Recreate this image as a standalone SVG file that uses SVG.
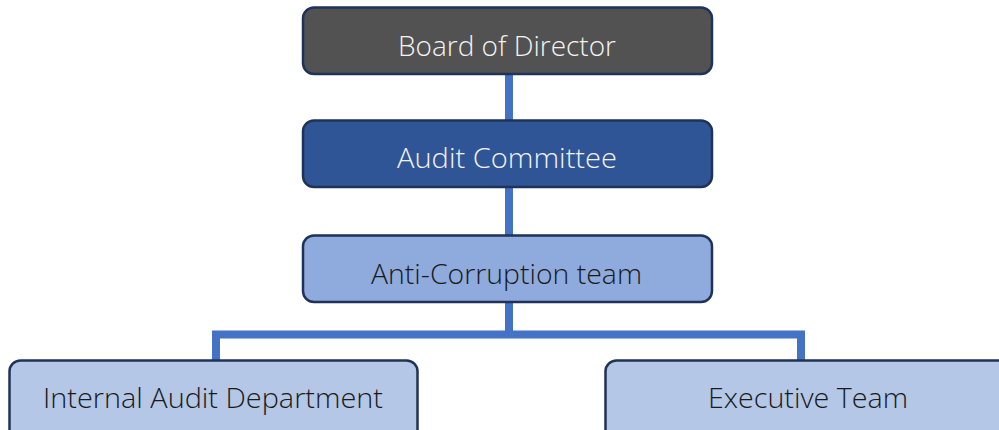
<svg xmlns="http://www.w3.org/2000/svg" width="999" height="430" viewBox="0 0 999 430">
  <style>
    .box { stroke: #1F3358; stroke-width: 2.5; }
    .lbl { font-family: "Open Sans", "Noto Sans", sans-serif; font-size: 28px; font-weight: 300; text-anchor: middle; }
    .light { fill: #F2F2F2; }
    .dark { fill: #1A1A1A; }
    .link { stroke: #4472C4; stroke-width: 8; fill: none; }
  </style>
  <rect width="999" height="430" fill="#FFFFFF"/>

  <g id="connectors">
    <line class="link" x1="509" y1="74" x2="509" y2="120"/>
    <line class="link" x1="509" y1="187" x2="509" y2="235"/>
    <polyline class="link" points="509,302 509,334.5"/>
    <polyline class="link" points="216,360 216,334.5 801,334.5 801,360" stroke-linejoin="miter"/>
  </g>

  <g id="board">
    <rect class="box" x="303" y="7.5" width="409" height="66.5" rx="11" fill="#525252"/>
    <text class="lbl light" x="507" y="56" textLength="218" lengthAdjust="spacingAndGlyphs">Board of Director</text>
  </g>

  <g id="audit-committee">
    <rect class="box" x="303" y="120.5" width="409" height="66.5" rx="11" fill="#2F5597"/>
    <text class="lbl light" x="507" y="168" textLength="220" lengthAdjust="spacingAndGlyphs">Audit Committee</text>
  </g>

  <g id="anti-corruption">
    <rect class="box" x="303" y="235.5" width="409" height="66.5" rx="11" fill="#8FAADC"/>
    <text class="lbl dark" x="506.5" y="284" textLength="271" lengthAdjust="spacingAndGlyphs">Anti-Corruption team</text>
  </g>

  <g id="internal-audit">
    <rect class="box" x="9.5" y="360.5" width="408" height="90" rx="11" fill="#B4C7E7"/>
    <text class="lbl dark" x="213" y="408" textLength="340" lengthAdjust="spacingAndGlyphs">Internal Audit Department</text>
  </g>

  <g id="executive-team">
    <rect class="box" x="605.5" y="360.5" width="420" height="90" rx="11" fill="#B4C7E7"/>
    <text class="lbl dark" x="808" y="408" textLength="200" lengthAdjust="spacingAndGlyphs">Executive Team</text>
  </g>
</svg>
